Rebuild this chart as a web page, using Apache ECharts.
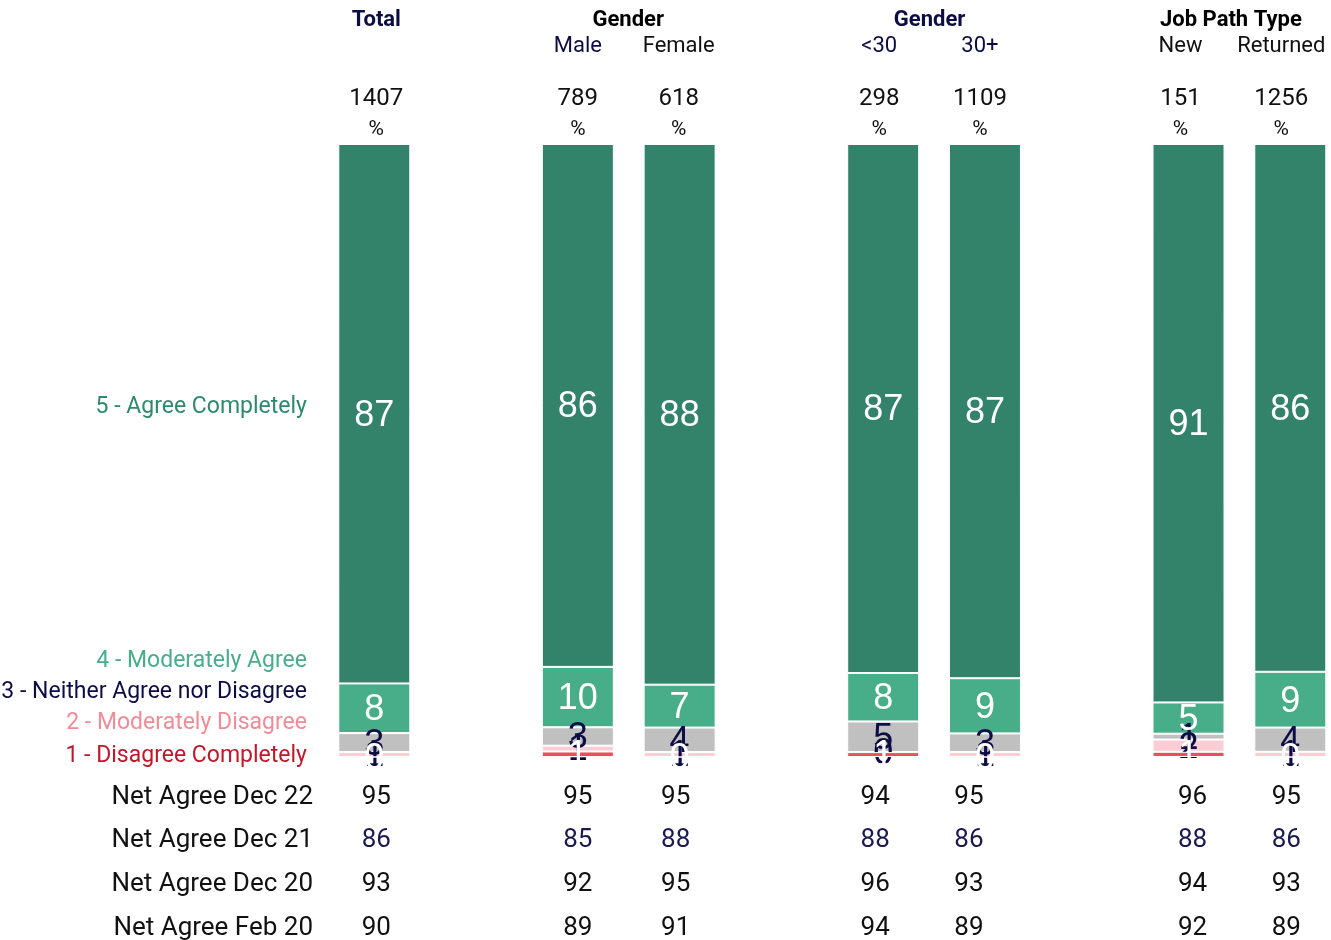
<!DOCTYPE html>
<html>
<head>
<meta charset="utf-8">
<script src="https://cdn.jsdelivr.net/npm/echarts@6/dist/echarts.min.js"></script>
<style>
html, body { margin: 0; padding: 0; background: #ffffff; }
#chart { width: 1331px; height: 940px; }
</style>
</head>
<body>
<div id="chart"></div>
<script>
// columns, '' = spacer between groups
const columns = ['Total', '', 'Male', 'Female', '', '<30', '30+', '', 'New', 'Returned']
const baseCounts = ['1407', '', '789', '618', '', '298', '1109', '', '151', '1256']

// group headers and the columns under them
const groupNames = ['Total', 'Gender', 'Gender', 'Job Path Type']
const groupMembers = [['Total'], ['Male', 'Female'], ['<30', '30+'], ['New', 'Returned']]

// answer shares in % (bar heights), bottom of stack first
const disagreeCompletely = [0, null, 0.9, 0, null, 0.8, 0, null, 0.85, 0]
const moderatelyDisagree = [0.8, null, 0.95, 0.8, null, 0, 0.8, null, 2.0, 0.85]
const neitherAgree = [3.1, null, 3.0, 4.0, null, 5.0, 3.05, null, 0.95, 3.95]
const moderatelyAgree = [8.1, null, 9.85, 7.0, null, 7.9, 9.0, null, 5.1, 9.1]
const agreeCompletely = [88.0, null, 85.3, 88.2, null, 86.3, 87.15, null, 91.1, 86.1]

// values as printed on the segments
const disagreeCompletelyLabels = [0, null, 1, 0, null, 1, 0, null, 1, 0]
const moderatelyDisagreeLabels = [1, null, 1, 1, null, 0, 1, null, 2, 1]
const neitherAgreeLabels = [3, null, 3, 4, null, 5, 3, null, 1, 4]
const moderatelyAgreeLabels = [8, null, 10, 7, null, 8, 9, null, 5, 9]
const agreeCompletelyLabels = [87, null, 86, 88, null, 87, 87, null, 91, 86]

const answerNames = ['1 - Disagree Completely', '2 - Moderately Disagree', '3 - Neither Agree nor Disagree', '4 - Moderately Agree', '5 - Agree Completely']

// net agree rows under the chart
const netRowNames = ['Net Agree Dec 22', 'Net Agree Dec 21', 'Net Agree Dec 20', 'Net Agree Feb 20']
const netDec22 = [95, null, 95, 95, null, 94, 95, null, 96, 95]
const netDec21 = [86, null, 85, 88, null, 88, 86, null, 88, 86]
const netDec20 = [93, null, 92, 95, null, 96, 93, null, 94, 93]
const netFeb20 = [90, null, 89, 91, null, 94, 89, null, 92, 89]

const NAVY = '#0d0d45'
const FONT = 'Roboto'

const myChart = echarts.init(document.getElementById('chart'))

// 系列样式
const seriesColors = ['#e8505f', '#f9cdd3', '#c0c0c0', '#48ae8a', '#33826a']
const labelColors = ['#ffffff', NAVY, NAVY, '#ffffff', '#ffffff']
const legendColors = ['#c0182a', '#f08c98', NAVY, '#48ae8a', '#2e8a6a']
const seriesData = [disagreeCompletely, moderatelyDisagree, neitherAgree, moderatelyAgree, agreeCompletely]
const seriesLabels = [disagreeCompletelyLabels, moderatelyDisagreeLabels, neitherAgreeLabels, moderatelyAgreeLabels, agreeCompletelyLabels]

const series = seriesData.map((d, i) => ({
  name: answerNames[i],
  type: 'bar',
  stack: 'all',
  data: d,
  barWidth: 72,
  clip: false,
  z: i === 0 ? 4 : 2,
  itemStyle: {
    color: seriesColors[i],
    borderColor: '#ffffff',
    borderWidth: 1
  },
  label: {
    show: true,
    position: 'inside',
    offset: [0, 2],
    color: labelColors[i],
    fontFamily: 'Liberation Sans',
    fontSize: 36,
    formatter: p => (p.value == null ? '' : String(seriesLabels[i][p.dataIndex]))
  }
}))

myChart.setOption({
  animation: false,
  grid: { left: 374.3, right: 40.7, top: 144, bottom: 183 },
  xAxis: { type: 'category', data: columns, boundaryGap: false, show: false },
  yAxis: { type: 'value', min: 0, max: 100, show: false },
  series: series
})

// 文字部分 (x from the category axis)
const xOf = name => myChart.convertToPixel({ xAxisIndex: 0 }, columns.indexOf(name))
// header text sits a little left of the bars in the right-hand groups
const headShift = { Total: 2, Male: 0, Female: -1, '<30': -4, '30+': -5, New: -8, Returned: -9 }
const rowShift = { Total: 2, Male: 0, Female: -4, '<30': -8, '30+': -16, New: 4, Returned: -4 }
const txt = (text, x, y, fill, font, align) => ({
  type: 'text',
  x: x,
  y: y + 2,
  style: { text: text, fill: fill, font: font, align: align || 'center', verticalAlign: 'middle' }
})

const graphics = []

// group headers
const groupColors = [NAVY, '#000000', NAVY, '#000000']
groupNames.forEach((g, i) => {
  const xs = groupMembers[i].map(c => xOf(c) + headShift[c])
  const x = xs.reduce((a, b) => a + b, 0) / xs.length
  graphics.push(txt(g, x, 18, groupColors[i], 'bold 22px ' + FONT))
})

// sub headers, base counts and %
const subColors = { Male: NAVY, Female: '#111111', '<30': NAVY, '30+': NAVY, New: '#111111', Returned: '#111111' }
columns.forEach((c, i) => {
  if (!c) return
  const x = xOf(c) + headShift[c]
  if (c !== 'Total') graphics.push(txt(c, x, 44, subColors[c], '22px ' + FONT))
  graphics.push(txt(baseCounts[i], x, 97, '#111111', '24px ' + FONT))
  graphics.push(txt('%', x, 128, '#111111', '21px ' + FONT))
})

// answer labels on the left (next to the Total bar segments)
const legendY = [754, 721, 690, 659, 405]
answerNames.forEach((n, i) => {
  graphics.push(txt(n, 307, legendY[i], legendColors[i], '23px ' + FONT, 'right'))
})

// net agree rows
const netRows = [netDec22, netDec21, netDec20, netFeb20]
const rowY = [795, 838, 882, 926]
const rowColors = ['#111111', '#1a1a50', '#111111', '#111111']
netRows.forEach((row, r) => {
  graphics.push(txt(netRowNames[r], 313, rowY[r], '#111111', '26px ' + FONT, 'right'))
  row.forEach((v, i) => {
    if (v == null) return
    graphics.push(txt(String(v), xOf(columns[i]) + rowShift[columns[i]], rowY[r], rowColors[r], '26px ' + FONT))
  })
})

myChart.setOption({ graphic: graphics })
</script>
</body>
</html>
